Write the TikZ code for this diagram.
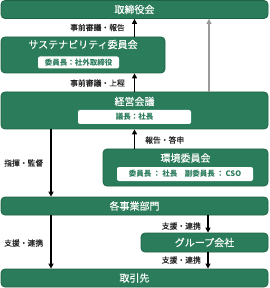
\documentclass[tikz,border=0pt]{standalone}
\usepackage{fontspec}
\setmainfont{Noto Sans CJK JP}
\newfontfamily\medfont[FakeBold=0.4]{Noto Sans CJK JP}
\usetikzlibrary{arrows.meta}
\definecolor{gfill}{HTML}{2A7C5B}
\definecolor{gedge}{HTML}{1E6346}
\definecolor{garrow}{HTML}{9A9A9A}
\definecolor{lbl}{HTML}{222222}
\tikzset{
  box/.style={draw=gedge, line width=0.8pt, fill=gfill, rounded corners=4pt, inner sep=0pt},
  inbox/.style={fill=white, rounded corners=2pt, inner sep=0pt, text=gfill, font=\fontsize{7.5}{8}\selectfont\bfseries},
  ttl/.style={text=white, font=\medfont\fontsize{10}{11}\selectfont, inner sep=0pt},
  lab/.style={text=lbl, font=\medfont\fontsize{7.8}{8}\selectfont, inner sep=0pt},
  arr/.style={-{Triangle[length=5pt,width=5pt]}, line width=1.3pt, draw=black},
  garr/.style={-{Triangle[length=5pt,width=5pt]}, line width=1.3pt, draw=garrow},
}
\begin{document}
\begin{tikzpicture}[x=1pt,y=-1pt]
\useasboundingbox (0,0) rectangle (269,288);
% boxes
\node[box, minimum width=267pt, minimum height=18pt] (board) at (134.5,9.5) {};
\node[ttl] (boardt) at (134.5,9.5) {取締役会};
\node[box, minimum width=164pt, minimum height=36pt] (sus) at (83,55) {};
\node[ttl] (sust) at (83,44.5) {サステナビリティ委員会};
\node[inbox, minimum width=81pt, minimum height=12pt] (susi) at (78.5,62.5) {委員長：社外取締役};
\node[box, minimum width=267pt, minimum height=37pt] (mgmt) at (134.5,110.5) {};
\node[ttl] (mgmtt) at (134.5,101.5) {経営会議};
\node[inbox, minimum width=113pt, minimum height=14pt] (mgmti) at (134.5,117) {議長：社長};
\node[box, minimum width=165pt, minimum height=37pt] (env) at (185.5,167.5) {};
\node[ttl] (envt) at (185.5,158) {環境委員会};
\node[inbox, minimum width=136pt, minimum height=14pt] (envi) at (185,174) {委員長 ： 社長\quad 副委員長 ： CSO};
\node[box, minimum width=267pt, minimum height=18pt] (dept) at (134.5,206) {};
\node[ttl] (deptt) at (134.5,206) {各事業部門};
\node[box, minimum width=127pt, minimum height=19pt] (group) at (204.5,242.5) {};
\node[ttl] (groupt) at (204.5,242.5) {グループ会社};
\node[box, minimum width=267pt, minimum height=18pt] (client) at (134.5,278) {};
\node[ttl] (clientt) at (134.5,278) {取引先};
% helper coordinates
\coordinate (gx) at (209,0);
\coordinate (lx) at (51,0);
\coordinate (rx) at (208,0);
% arrows
\draw[arr] (sus.north -| board.south) -- (board.south);
\draw[arr] (mgmt.north -| board.south) -- (sus.south -| board.south);
\draw[garr] (gx |- mgmt.north) -- (gx |- board.south);
\draw[arr] (env.north -| board.south) -- (mgmt.south -| board.south);
\draw[arr] (lx |- mgmt.south) -- (lx |- dept.north);
\draw[arr] (lx |- dept.south) -- (lx |- client.north);
\draw[arr] (rx |- dept.south) -- (rx |- group.north);
\draw[arr] (rx |- group.south) -- (rx |- client.north);
% labels
\node[lab, anchor=east] (l1) at (125,27.5) {事前審議・報告};
\node[lab, anchor=east] (l2) at (125,83) {事前審議・上程};
\node[lab, anchor=west] (l3) at (145,140) {報告・答申};
\node[lab, anchor=west] (l4) at (4,163) {指揮・監督};
\node[lab, anchor=west] (l5) at (4,243) {支援・連携};
\node[lab, anchor=east] (l6) at (201,226) {支援・連携};
\node[lab, anchor=east] (l7) at (201,260) {支援・連携};
\end{tikzpicture}
\end{document}
